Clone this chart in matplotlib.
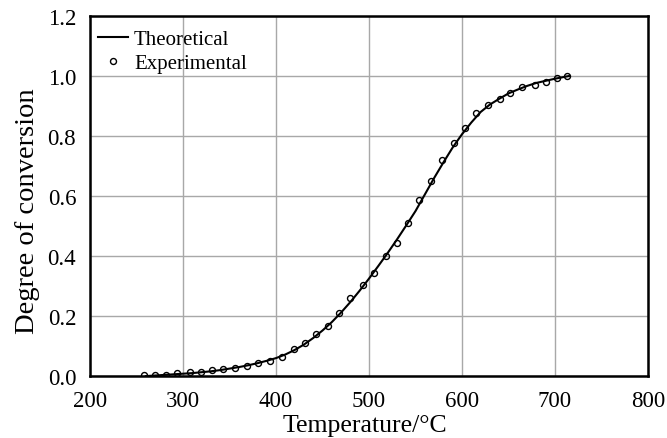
import matplotlib
matplotlib.use("Agg")
import matplotlib.pyplot as plt

# ---------------- DATA ---------------- #
# theoretical curve
theo_temp = [260, 270, 280, 290, 300, 310, 320, 330, 340, 350, 360, 370, 380,
             390, 400, 410, 420, 430, 440, 450, 460, 470, 480, 490, 500, 510,
             520, 530, 540, 550, 560, 570, 580, 590, 600, 610, 620, 630, 640,
             650, 660, 670, 680, 690, 700, 710, 715]
theo_conv = [0.0, 0.002, 0.004, 0.006, 0.008, 0.010, 0.013, 0.016, 0.020,
             0.025, 0.030, 0.036, 0.043, 0.051, 0.060, 0.072, 0.087, 0.105,
             0.127, 0.152, 0.180, 0.212, 0.247, 0.285, 0.325, 0.367, 0.410,
             0.455, 0.502, 0.550, 0.605, 0.660, 0.712, 0.762, 0.806, 0.845,
             0.880, 0.905, 0.924, 0.942, 0.955, 0.967, 0.977, 0.984, 0.991,
             0.997, 1.0]

# experimental points
exp_temp = [258, 270, 282, 294, 307, 319, 331, 343, 356, 369, 381, 393, 406,
            419, 431, 443, 456, 468, 480, 493, 505, 518, 530, 542, 554, 567,
            579, 591, 603, 615, 628, 641, 652, 665, 678, 690, 702, 713]
exp_conv = [0.003, 0.003, 0.005, 0.010, 0.012, 0.012, 0.020, 0.024, 0.028,
            0.034, 0.042, 0.050, 0.064, 0.090, 0.110, 0.139, 0.167, 0.210,
            0.259, 0.305, 0.342, 0.399, 0.444, 0.511, 0.588, 0.651, 0.719,
            0.777, 0.827, 0.876, 0.904, 0.925, 0.945, 0.964, 0.970, 0.981,
            0.993, 1.001]

x_ticks = [200, 300, 400, 500, 600, 700, 800]
y_ticks = [0.0, 0.2, 0.4, 0.6, 0.8, 1.0, 1.2]
# -------------------------------------- #

plt.rcParams['font.family'] = ['Liberation Serif', 'DejaVu Serif']

fig = plt.figure(figsize=(6.67, 4.39), dpi=100)
ax = fig.add_axes([0.135, 0.141, 0.8365, 0.8203])

ax.plot(theo_temp, theo_conv, color='black', lw=1.5, label='Theoretical', zorder=3)
ax.plot(exp_temp, exp_conv, 'o', ms=4.3, mfc='none', mec='black', mew=1.0,
        label='Experimental', zorder=4)

ax.set_xlim(200, 800)
ax.set_ylim(0, 1.2)
ax.set_xticks(x_ticks)
ax.set_yticks(y_ticks)
ax.set_yticklabels([f"{v:.1f}" for v in y_ticks])
ax.tick_params(length=0, labelsize=16.5)
ax.tick_params(axis='x', pad=10)
ax.tick_params(axis='y', pad=10)
ax.grid(True, color='#a8a8a8', lw=1.0)
ax.set_axisbelow(True)
for s in ax.spines.values():
    s.set_linewidth(1.8)

ax.set_xlabel('Temperature/°C', fontsize=18.5, labelpad=3)
ax.xaxis.set_label_coords(0.493, -0.105)
ax.set_ylabel('Degree of conversion', fontsize=20.5)
ax.yaxis.set_label_coords(-0.09, 0.46)

leg = ax.legend(loc='upper left', bbox_to_anchor=(-0.007, 0.994),
                frameon=False, fontsize=15,
                handlelength=1.45, borderaxespad=0.15, borderpad=0.4,
                labelspacing=0.2, handletextpad=0.3)

fig.savefig('out.png', dpi=100)
